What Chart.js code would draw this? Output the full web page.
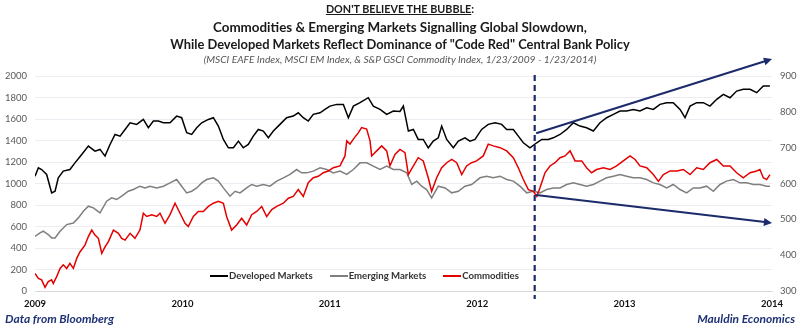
<!DOCTYPE html>
<html>
<head>
<meta charset="utf-8">
<script src="https://cdn.jsdelivr.net/npm/chart.js@4.4.1/dist/chart.umd.min.js"></script>
<style>
  body { margin: 0; background: #fff; }
  #wrap { position: relative; width: 800px; height: 328px; background: #fff; font-family: Lato, "Open Sans", sans-serif; }
  #c { position: absolute; left: 0; top: 0; }
  .tl { position: absolute; left: 0; width: 800px; text-align: center; color: #1a1a1a; font-weight: bold; white-space: nowrap; }
  #t1 { top: 2px; font-size: 10.8px; }
  #t2 { top: 19px; font-size: 13.4px; }
  #t3 { top: 36px; font-size: 12.9px; }
  #t4 { top: 53px; font-size: 10.2px; font-weight: normal; font-style: italic; color: #555; }
  #legend { position: absolute; left: 210px; top: 270px; display: flex; font-size: 9.6px; font-weight: bold; color: #333; }
  #legend span.item { display: flex; align-items: center; margin-right: 17px; }
  #legend span.sw { display: inline-block; width: 18px; height: 2px; margin-right: 1px; }
  .foot { position: absolute; top: 311px; font-size: 12px; font-weight: bold; font-style: italic; color: #1f3276; }
</style>
</head>
<body>
<div id="wrap">
  <canvas id="c" width="800" height="328"></canvas>
  <div class="tl" id="t1"><span style="text-decoration:underline">DON'T BELIEVE THE BUBBLE</span>:</div>
  <div class="tl" id="t2">Commodities &amp; Emerging Markets Signalling Global Slowdown,</div>
  <div class="tl" id="t3">While Developed Markets Reflect Dominance of "Code Red" Central Bank Policy</div>
  <div class="tl" id="t4">(MSCI EAFE Index, MSCI EM Index, &amp; S&amp;P GSCI Commodity Index, 1/23/2009 - 1/23/2014)</div>
  <div id="legend"></div>
  <div class="foot" style="left:5px">Data from Bloomberg</div>
  <div class="foot" style="right:5px">Mauldin Economics</div>
</div>
<script>
// [year, value]
const developedMarkets = [
  [2009.000,1068],[2009.023,1146],[2009.045,1130],[2009.079,1084],[2009.113,913],[2009.136,928],[2009.158,1053],[2009.192,1115],
  [2009.237,1130],[2009.271,1192],[2009.317,1270],[2009.362,1348],[2009.407,1301],[2009.441,1317],[2009.475,1255],[2009.509,1363],
  [2009.543,1456],[2009.577,1441],[2009.611,1503],[2009.645,1565],[2009.690,1550],[2009.735,1596],[2009.769,1519],[2009.803,1581],
  [2009.837,1581],[2009.871,1565],[2009.916,1565],[2009.961,1627],[2009.995,1612],[2010.029,1472],[2010.063,1456],[2010.097,1519],
  [2010.131,1565],[2010.176,1596],[2010.210,1612],[2010.244,1534],[2010.278,1410],[2010.312,1332],[2010.346,1332],[2010.380,1394],
  [2010.413,1332],[2010.447,1363],[2010.481,1441],[2010.515,1503],[2010.549,1488],[2010.583,1425],[2010.617,1488],[2010.662,1550],
  [2010.707,1612],[2010.752,1627],[2010.786,1658],[2010.820,1612],[2010.854,1581],[2010.888,1643],[2010.934,1658],[2010.967,1689],
  [2011.001,1720],[2011.047,1736],[2011.092,1736],[2011.126,1612],[2011.160,1720],[2011.205,1752],[2011.261,1798],[2011.295,1720],
  [2011.341,1689],[2011.386,1643],[2011.431,1674],[2011.476,1670],[2011.499,1720],[2011.533,1488],[2011.567,1503],[2011.600,1410],
  [2011.634,1410],[2011.668,1332],[2011.702,1394],[2011.736,1425],[2011.759,1534],[2011.793,1410],[2011.838,1332],[2011.872,1394],
  [2011.917,1425],[2011.951,1394],[2011.985,1410],[2012.030,1503],[2012.075,1550],[2012.121,1565],[2012.166,1550],[2012.200,1503],
  [2012.245,1503],[2012.279,1441],[2012.313,1379],[2012.358,1332],[2012.404,1379],[2012.438,1410],[2012.482,1410],[2012.516,1425],
  [2012.562,1456],[2012.607,1503],[2012.652,1565],[2012.697,1534],[2012.742,1519],[2012.788,1488],[2012.833,1565],[2012.878,1612],
  [2012.924,1643],[2012.969,1674],[2013.014,1674],[2013.059,1689],[2013.104,1674],[2013.150,1705],[2013.195,1689],[2013.240,1736],
  [2013.285,1752],[2013.330,1752],[2013.376,1689],[2013.410,1612],[2013.444,1720],[2013.489,1752],[2013.534,1752],[2013.579,1720],
  [2013.625,1783],[2013.670,1829],[2013.715,1798],[2013.760,1860],[2013.805,1876],[2013.851,1876],[2013.896,1845],[2013.941,1907],
  [2013.986,1907]
];

const emergingMarkets = [
  [2009.000,509],[2009.034,540],[2009.056,556],[2009.090,525],[2009.113,494],[2009.136,494],[2009.170,556],[2009.215,618],
  [2009.260,633],[2009.294,680],[2009.328,742],[2009.362,789],[2009.396,773],[2009.441,727],[2009.486,835],[2009.520,866],
  [2009.554,851],[2009.588,882],[2009.633,928],[2009.667,944],[2009.712,975],[2009.746,959],[2009.780,975],[2009.826,959],
  [2009.871,975],[2009.916,1006],[2009.961,1037],[2009.995,975],[2010.029,913],[2010.063,928],[2010.097,959],[2010.131,1006],
  [2010.165,1037],[2010.210,1053],[2010.244,1022],[2010.278,959],[2010.323,882],[2010.357,928],[2010.391,913],[2010.436,959],
  [2010.470,991],[2010.504,975],[2010.549,991],[2010.594,975],[2010.640,1022],[2010.685,1053],[2010.730,1084],[2010.775,1130],
  [2010.809,1099],[2010.843,1099],[2010.888,1115],[2010.934,1146],[2010.979,1130],[2011.024,1099],[2011.069,1115],[2011.115,1084],
  [2011.160,1130],[2011.205,1192],[2011.250,1192],[2011.295,1161],[2011.341,1130],[2011.386,1161],[2011.431,1130],[2011.476,1130],
  [2011.522,1099],[2011.556,991],[2011.590,1022],[2011.623,975],[2011.657,944],[2011.691,866],[2011.736,975],[2011.782,959],
  [2011.827,913],[2011.872,928],[2011.917,975],[2011.962,991],[2012.019,1053],[2012.064,1068],[2012.109,1053],[2012.155,1068],
  [2012.200,1037],[2012.245,1022],[2012.290,975],[2012.336,913],[2012.381,928],[2012.426,913],[2012.471,944],[2012.516,959],
  [2012.562,959],[2012.607,991],[2012.652,1006],[2012.697,991],[2012.742,975],[2012.788,991],[2012.833,1022],[2012.878,1053],
  [2012.924,1068],[2012.969,1084],[2013.014,1068],[2013.059,1053],[2013.104,1053],[2013.150,1037],[2013.195,1006],[2013.240,991],
  [2013.285,959],[2013.330,991],[2013.376,944],[2013.421,913],[2013.466,959],[2013.511,959],[2013.556,975],[2013.602,928],
  [2013.647,991],[2013.692,1022],[2013.737,1037],[2013.783,1006],[2013.828,1006],[2013.873,991],[2013.918,991],[2013.964,975],
  [2013.986,975]
];

// commodities is read on the right-hand axis
const commodities = [
  [2009.000,349],[2009.023,335],[2009.045,331],[2009.068,310],[2009.090,326],[2009.113,331],[2009.124,321],[2009.147,340],
  [2009.170,363],[2009.192,373],[2009.215,363],[2009.237,377],[2009.260,363],[2009.283,391],[2009.305,409],[2009.339,428],
  [2009.362,452],[2009.385,470],[2009.407,456],[2009.430,447],[2009.453,405],[2009.475,423],[2009.498,438],[2009.532,470],
  [2009.566,461],[2009.588,447],[2009.611,442],[2009.645,461],[2009.678,447],[2009.712,470],[2009.735,517],[2009.758,508],
  [2009.792,513],[2009.826,508],[2009.848,517],[2009.882,489],[2009.916,513],[2009.950,545],[2009.984,517],[2010.018,489],
  [2010.040,480],[2010.074,508],[2010.108,522],[2010.142,522],[2010.176,536],[2010.210,545],[2010.244,550],[2010.278,545],
  [2010.300,508],[2010.334,470],[2010.368,484],[2010.402,503],[2010.436,484],[2010.470,513],[2010.504,522],[2010.538,536],
  [2010.572,508],[2010.606,527],[2010.640,536],[2010.685,545],[2010.719,559],[2010.752,564],[2010.786,583],[2010.820,564],
  [2010.854,602],[2010.888,616],[2010.922,620],[2010.956,630],[2010.990,635],[2011.024,644],[2011.069,649],[2011.103,677],
  [2011.115,719],[2011.137,710],[2011.160,724],[2011.194,742],[2011.216,756],[2011.250,752],[2011.273,719],[2011.284,677],
  [2011.318,691],[2011.352,705],[2011.386,691],[2011.408,649],[2011.442,681],[2011.476,695],[2011.510,686],[2011.533,625],
  [2011.567,649],[2011.600,672],[2011.634,663],[2011.668,616],[2011.691,578],[2011.725,616],[2011.759,644],[2011.793,658],
  [2011.827,667],[2011.861,658],[2011.895,625],[2011.928,649],[2011.962,658],[2011.996,663],[2012.041,677],[2012.075,710],
  [2012.109,705],[2012.155,700],[2012.200,691],[2012.245,672],[2012.279,644],[2012.313,611],[2012.347,583],[2012.381,578],
  [2012.404,564],[2012.426,588],[2012.460,630],[2012.494,649],[2012.528,658],[2012.562,672],[2012.596,677],[2012.630,691],
  [2012.664,663],[2012.709,663],[2012.742,644],[2012.776,630],[2012.810,639],[2012.856,644],[2012.901,639],[2012.946,649],
  [2012.991,663],[2013.037,677],[2013.071,667],[2013.104,649],[2013.150,644],[2013.195,625],[2013.229,606],[2013.263,625],
  [2013.308,635],[2013.354,635],[2013.399,639],[2013.444,625],[2013.489,644],[2013.534,639],[2013.579,658],[2013.625,667],
  [2013.670,649],[2013.715,649],[2013.760,630],[2013.805,616],[2013.851,630],[2013.896,635],[2013.918,639],[2013.941,616],
  [2013.964,611],[2013.986,625]
];

const seriesNames = ['Developed Markets', 'Emerging Markets', 'Commodities'];
const seriesColors = ['#000000', '#7f7f7f', '#e50000'];

// annotation: the break line and two trend arrows (year, left-axis value)
const breakYear = 2012.39;
const arrowUp = [[2012.40, 1467], [2014.0, 2158]];
const arrowDown = [[2012.40, 893], [2014.0, 633]];

const navy = '#1b2a6b';
const toPts = arr => arr.map(p => ({ x: p[0], y: p[1] }));

function arrow(ctx, x1, y1, x2, y2) {
  const a = Math.atan2(y2 - y1, x2 - x1);
  const h = 9;
  ctx.beginPath();
  ctx.moveTo(x1, y1);
  ctx.lineTo(x2 - 5 * Math.cos(a), y2 - 5 * Math.sin(a));
  ctx.stroke();
  ctx.beginPath();
  ctx.moveTo(x2, y2);
  ctx.lineTo(x2 - h * Math.cos(a - 0.45), y2 - h * Math.sin(a - 0.45));
  ctx.lineTo(x2 - h * Math.cos(a + 0.45), y2 - h * Math.sin(a + 0.45));
  ctx.closePath();
  ctx.fill();
}

const annotations = {
  id: 'annotations',
  afterDatasetsDraw(chart) {
    const { ctx, chartArea, scales } = chart;
    const x = scales.x, y = scales.yL;
    ctx.save();
    ctx.strokeStyle = navy;
    ctx.fillStyle = navy;
    ctx.lineWidth = 2.2;
    ctx.setLineDash([6, 4]);
    const bx = x.getPixelForValue(breakYear);
    ctx.beginPath();
    ctx.moveTo(bx, chartArea.top - 1);
    ctx.lineTo(bx, chartArea.bottom + 8);
    ctx.stroke();
    ctx.setLineDash([]);
    ctx.lineWidth = 2;
    [arrowUp, arrowDown].forEach(a => {
      arrow(ctx, x.getPixelForValue(a[0][0]), y.getPixelForValue(a[0][1]),
                 x.getPixelForValue(a[1][0]), y.getPixelForValue(a[1][1]));
    });
    ctx.restore();
  }
};

const chart = new Chart(document.getElementById('c'), {
  type: 'line',
  data: {
    datasets: [
      { label: seriesNames[0], data: toPts(developedMarkets), yAxisID: 'yL', borderColor: seriesColors[0], order: 1 },
      { label: seriesNames[1], data: toPts(emergingMarkets), yAxisID: 'yL', borderColor: seriesColors[1], order: 2 },
      { label: seriesNames[2], data: toPts(commodities), yAxisID: 'yR', borderColor: seriesColors[2], order: 0 }
    ]
  },
  options: {
    responsive: false,
    animation: false,
    layout: { padding: { top: 76, left: 0, right: 0, bottom: 0 } },
    elements: {
      line: { borderWidth: 1.5, tension: 0 },
      point: { radius: 0 }
    },
    plugins: { legend: { display: false }, tooltip: { enabled: false } },
    scales: {
      x: {
        type: 'linear', min: 2009, max: 2014,
        afterFit: s => { s.height = 37; },
        grid: { display: false, drawTicks: false },
        border: { color: '#d9d9d9' },
        ticks: {
          stepSize: 1, padding: 7, color: '#111',
          font: { family: 'Lato', size: 9.5, weight: 'bold' },
          callback: v => String(v)
        }
      },
      yL: {
        position: 'left', min: 0, max: 2000,
        afterFit: s => { s.width = 35; },
        grid: { color: '#ececf2', drawTicks: false },
        border: { display: false },
        ticks: {
          stepSize: 200, padding: 8, color: '#595959',
          font: { family: 'Lato', size: 9.5 },
          callback: v => String(v)
        }
      },
      yR: {
        position: 'right', min: 300, max: 900,
        afterFit: s => { s.width = 28; },
        grid: { display: false, drawTicks: false },
        border: { display: false },
        ticks: {
          stepSize: 100, padding: 8, color: '#595959',
          font: { family: 'Lato', size: 9.5 },
          callback: v => String(v)
        }
      }
    }
  },
  plugins: [annotations]
});

// html legend built from the datasets
const legend = document.getElementById('legend');
chart.data.datasets.forEach(ds => {
  const item = document.createElement('span');
  item.className = 'item';
  item.innerHTML = '<span class="sw" style="background:' + ds.borderColor + '"></span>' + ds.label;
  legend.appendChild(item);
});
</script>
</body>
</html>
